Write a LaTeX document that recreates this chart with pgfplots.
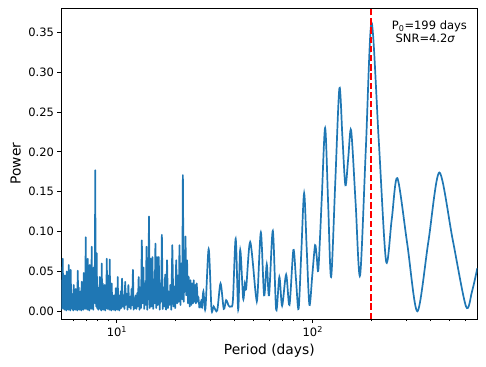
\documentclass[border=0pt]{standalone}
\usepackage{fontspec}
\setmainfont{DejaVu Sans}
\usepackage{pgfplots}
\pgfplotsset{compat=1.18}
\definecolor{mplblue}{HTML}{1F77B4}

\begin{document}
\begin{tikzpicture}
\begin{axis}[
    scale only axis,
    width=416pt, height=310.7pt,
    xmode=log,
    xmin=5.2, xmax=691.5,
    ymin=-0.00966, ymax=0.3801,
    axis line style={line width=0.9pt},
    tick style={line width=0.9pt, black},
    tick align=outside,
    tick pos=left,
    major tick length=3.9pt,
    minor tick length=2.2pt,
    xtick={10,100},
    xticklabels={10\textsuperscript{1},10\textsuperscript{2}},
    minor xtick={6,7,8,9,20,30,40,50,60,70,80,90,200,300,400,500,600},
    ytick={0,0.05,0.1,0.15,0.2,0.25,0.3,0.35},
    yticklabel style={/pgf/number format/.cd, fixed, fixed zerofill, precision=2},
    /pgf/number format/assume math mode=true,
    tick label style={font=\fontsize{11.5}{13}\selectfont},
    xlabel={Period (days)},
    ylabel={Power},
    label style={font=\fontsize{13.8}{16}\selectfont},
    xlabel style={at={(axis description cs:0.5,-0.1127)}, anchor=base},
    ylabel style={at={(axis description cs:-0.0976,0.5)}, anchor=base},
]
% short periods: dense forest of narrow peaks
\addplot[color=mplblue, line width=1.7pt, line join=round] coordinates {
(5.20,0.035)(5.23,0.003)(5.29,0.066)(5.32,0.004)(5.355,0.020)(5.39,0.002)
(5.42,0.045)(5.45,0.005)(5.48,0.012)(5.51,0.001)(5.545,0.050)(5.58,0.006)
(5.61,0.025)(5.64,0.002)(5.675,0.058)(5.71,0.004)(5.745,0.015)(5.78,0.001)
(5.81,0.052)(5.84,0.005)(5.875,0.022)(5.91,0.003)(5.945,0.010)(5.98,0.001)
(6.015,0.033)(6.05,0.006)(6.09,0.018)(6.13,0.002)(6.165,0.028)(6.20,0.004)
(6.235,0.008)(6.27,0.001)(6.31,0.051)(6.35,0.005)(6.385,0.030)(6.42,0.002)
(6.46,0.015)(6.50,0.003)(6.535,0.025)(6.57,0.001)(6.61,0.037)(6.65,0.006)
(6.69,0.012)(6.73,0.002)(6.77,0.048)(6.81,0.004)(6.85,0.030)(6.89,0.003)
(6.93,0.093)(6.97,0.008)(7.015,0.040)(7.06,0.002)(7.10,0.066)(7.14,0.006)
(7.18,0.035)(7.22,0.001)(7.265,0.058)(7.31,0.005)(7.35,0.028)(7.39,0.003)
(7.435,0.081)(7.48,0.006)(7.525,0.045)(7.57,0.002)(7.615,0.055)(7.66,0.010)
(7.70,0.030)(7.73,0.085)(7.75,0.177)(7.79,0.020)(7.84,0.006)(7.885,0.073)
(7.93,0.004)(7.98,0.030)(8.03,0.002)(8.075,0.020)(8.12,0.006)(8.17,0.043)
(8.22,0.003)(8.27,0.025)(8.32,0.001)(8.365,0.060)(8.41,0.005)(8.46,0.035)
(8.51,0.002)(8.565,0.015)(8.62,0.004)(8.67,0.033)(8.72,0.001)(8.77,0.020)
(8.82,0.006)(8.875,0.066)(8.93,0.003)(8.98,0.030)(9.03,0.005)(9.085,0.045)
(9.14,0.002)(9.19,0.065)(9.24,0.004)(9.295,0.020)(9.35,0.001)(9.405,0.035)
(9.46,0.006)(9.52,0.012)(9.58,0.002)(9.635,0.020)(9.69,0.004)(9.745,0.010)
(9.80,0.001)(9.86,0.029)(9.92,0.005)(9.98,0.015)(10.04,0.002)(10.095,0.043)
(10.15,0.004)(10.21,0.010)(10.27,0.001)(10.33,0.020)(10.39,0.003)(10.455,0.025)
(10.52,0.004)(10.62,0.041)(10.72,0.006)(10.82,0.020)(10.92,0.003)(11.02,0.037)
(11.12,0.008)(11.23,0.022)(11.33,0.002)(11.44,0.033)(11.55,0.005)(11.66,0.018)
(11.77,0.003)(11.88,0.028)(11.97,0.008)(12.07,0.052)(12.17,0.002)(12.26,0.016)
(12.37,0.004)(12.47,0.020)(12.57,0.003)(12.69,0.023)(12.79,0.006)(12.91,0.043)
(13.04,0.002)(13.15,0.030)(13.27,0.004)(13.40,0.089)(13.52,0.010)(13.65,0.055)
(13.78,0.003)(13.91,0.035)(14.04,0.008)(14.16,0.081)(14.29,0.002)(14.42,0.045)
(14.49,0.015)(14.57,0.119)(14.71,0.004)(14.86,0.066)(15.00,0.006)(15.18,0.068)
(15.32,0.003)(15.46,0.040)(15.59,0.010)(15.72,0.085)(15.87,0.004)(16.02,0.068)
(16.16,0.008)(16.35,0.068)(16.53,0.002)(16.71,0.035)(16.82,0.012)(16.96,0.096)
(17.14,0.003)(17.30,0.030)(17.47,0.006)(17.63,0.046)(17.82,0.002)(18.03,0.064)
(18.22,0.004)(18.39,0.025)(18.57,0.008)(18.74,0.033)(18.94,0.002)(19.18,0.083)
(19.42,0.006)(19.62,0.031)(19.83,0.004)(20.07,0.064)(20.30,0.010)(20.49,0.045)
(20.69,0.012)(20.86,0.083)(21.11,0.008)(21.33,0.060)(21.54,0.015)(21.71,0.171)
(21.92,0.012)(22.10,0.050)(22.23,0.025)(22.39,0.094)(22.60,0.020)(22.81,0.064)
(23.06,0.010)(23.27,0.043)(23.52,0.006)(23.74,0.039)(23.99,0.008)(24.22,0.035)
(24.45,0.010)(24.66,0.039)(24.89,0.012)(25.09,0.033)(25.30,0.010)(25.54,0.035)
(25.87,0.012)(26.05,0.018)(26.39,0.004)
};
% longer periods: resolved lobes
\addplot[color=mplblue, line width=1.7pt, smooth, tension=0.5] coordinates {
(26.39,0.004)(26.86,0.012)(27.17,0.005)(27.63,0.025)(28.29,0.003)(29.40,0.078)
(30.39,0.003)(31.18,0.006)(32.5,0.001)(33.8,0.035)(35.1,0.003)(36.1,0.014)
(37.2,0.007)(38.2,0.006)(39.1,0.014)(40.4,0.091)(41.6,0.002)(42.6,0.077)
(44.1,0.016)(45.0,0.035)(45.7,0.029)(47.9,0.087)(51.2,0.020)(52.2,0.020)
(54.3,0.099)(56.4,0.020)(58.2,0.059)(59.8,0.020)(62.5,0.101)(65.0,0.002)
(67.5,0.043)(69.7,0.007)(73.1,0.046)(76.0,0.008)(79.6,0.077)(82.06,0.040)
(84.6,0.003)(87.4,0.0755)(90.3,0.148)(93.1,0.078)(96.1,0.008)(99.4,0.0455)
(102.7,0.083)(104.75,0.068)(106.8,0.053)(111.1,0.1415)(115.6,0.230)(119.7,0.1365)
(124.0,0.043)(130.2,0.1615)(136.7,0.280)(141.6,0.219)(146.7,0.158)(151.7,0.1925)
(156.9,0.227)(165.4,0.136)(174.3,0.045)(186.5,0.2035)(199.5,0.362)(217.3,0.2125)
(236.6,0.063)(252.8,0.115)(270.2,0.167)(303.9,0.0835)(341.8,0.0)(388.9,0.087)
(442.5,0.174)(517.6,0.090)(605.6,0.006)(650.0,0.025)(691.5,0.054)
};
\addplot[color=red, line width=1.7pt, dash pattern=on 6.4pt off 2.8pt] coordinates {
(199,-0.00966)(199,0.3801)
};
\node[anchor=north west, align=left, inner sep=0pt, font=\fontsize{11.5}{13.4}\selectfont]
  at (axis cs:253,0.365) {P\textsubscript{0}=199 days\\\ SNR=4.2\textit{σ}};
\end{axis}
\path ([shift={(-61.3pt,-48pt)}]current axis.south west) rectangle ([shift={(8.7pt,8.3pt)}]current axis.north east);
\end{tikzpicture}
\end{document}
